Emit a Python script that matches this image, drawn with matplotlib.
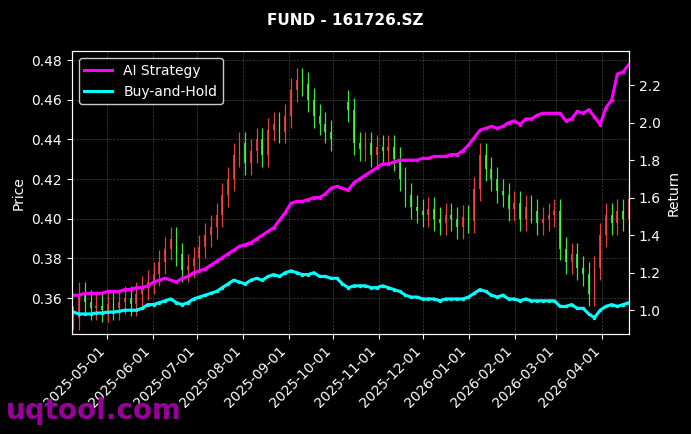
import matplotlib
matplotlib.use("Agg")
import matplotlib.pyplot as plt
import matplotlib.dates as mdates
import numpy as np
import pandas as pd

dates = pd.date_range("2025-04-08", "2026-04-19", periods=98)
closes = [.350,.362,.358,.355,.356, .354,.357,.355,.358,.360,
          .357,.362,.365,.368,.372, .378,.385,.390,.382,.374,
          .376,.380,.386,.392,.396, .402,.412,.420,.432,.438,
          .428,.434,.440,.432,.445, .448,.444,.452,.465,.470,
          .468,.460,.452,.448,.444, .440,np.nan,np.nan,.455,.438,
          .435,.438,.432,.436,.434, .436,.430,.420,.412,.406,
          .404,.402,.405,.400,.398, .402,.400,.396,.401,.399,
          .415,.432,.425,.420,.414, .412,.405,.408,.400,.406,
          .404,.398,.400,.402,.404, .385,.378,.382,.375,.372,
          .362,.375,.392,.402,.398, .404,.400,.410]
strategy = [1.08,1.08,1.09,1.09,1.09, 1.09,1.10,1.10,1.10,1.11,
            1.11,1.12,1.12,1.13,1.15, 1.16,1.17,1.16,1.15,1.17,
            1.18,1.20,1.21,1.22,1.24, 1.26,1.28,1.30,1.32,1.34,
            1.35,1.36,1.38,1.40,1.42, 1.44,1.48,1.52,1.57,1.58,
            1.58,1.59,1.60,1.60,1.62, 1.65,1.66,1.65,1.64,1.68,
            1.70,1.72,1.74,1.76,1.78, 1.78,1.79,1.80,1.80,1.80,
            1.80,1.81,1.81,1.82,1.82, 1.82,1.83,1.83,1.85,1.88,
            1.92,1.96,1.97,1.98,1.97, 1.98,2.00,2.01,1.99,2.02,
            2.02,2.04,2.05,2.05,2.05, 2.05,2.01,2.02,2.06,2.05,
            2.07,2.03,1.99,2.08,2.12, 2.26,2.27,2.31]
buyhold = [0.99,0.98,0.98,0.98,0.985, 0.985,0.99,0.99,0.995,1.00,
           1.00,1.00,1.01,1.03,1.03, 1.04,1.05,1.06,1.04,1.03,
           1.04,1.06,1.07,1.08,1.09, 1.10,1.12,1.14,1.16,1.15,
           1.14,1.16,1.17,1.16,1.18, 1.19,1.18,1.20,1.21,1.20,
           1.19,1.19,1.20,1.18,1.18, 1.17,1.17,1.14,1.12,1.13,
           1.13,1.13,1.12,1.12,1.13, 1.12,1.11,1.10,1.08,1.07,
           1.07,1.06,1.06,1.06,1.05, 1.06,1.06,1.06,1.06,1.07,
           1.09,1.11,1.10,1.08,1.07, 1.08,1.06,1.06,1.05,1.06,
           1.05,1.05,1.05,1.05,1.05, 1.02,1.02,1.03,1.01,1.01,
           0.98,0.96,1.00,1.02,1.03, 1.02,1.03,1.04]

plt.style.use("dark_background")
fig, ax = plt.subplots(figsize=(6.91, 4.34), dpi=100)
fig.subplots_adjust(left=0.104, right=0.910, top=0.882, bottom=0.230)

c = np.array(closes, dtype=float)
o = np.r_[c[0], c[:-1]]
x = mdates.date2num(dates)
for i in range(len(c)):
    if np.isnan(c[i]):
        continue
    oi = o[i] if not np.isnan(o[i]) else c[i] + 0.004
    col = "#ff4444" if c[i] >= oi else "#44ff44"
    hi = max(c[i], oi) + 0.006
    lo = min(c[i], oi) - 0.006
    ax.vlines(x[i], lo, hi, color=col, lw=0.9, alpha=0.9)
    ax.bar(x[i], max(abs(c[i] - oi), 0.0008), bottom=min(c[i], oi), width=1.2, color=col, alpha=0.8)

ax.set_ylim(0.3418, 0.4845)
ax.set_xlim(mdates.date2num(pd.Timestamp("2025-04-07")), mdates.date2num(pd.Timestamp("2026-04-19")))
ax.set_ylabel("Price")
ax.grid(True, color="gray", ls="--", lw=0.5, alpha=0.5)
ax.xaxis.set_major_locator(mdates.MonthLocator())
ax.xaxis.set_major_formatter(mdates.DateFormatter("%Y-%m-%d"))
plt.setp(ax.get_xticklabels(), rotation=45, ha="right")

ax2 = ax.twinx()
ax2.plot(dates, strategy, color="#ff00ff", lw=2.2, marker="o", markersize=1.5, label="AI Strategy")
ax2.plot(dates, buyhold, color="#00ffff", lw=2.2, marker="o", markersize=1.5, label="Buy-and-Hold")
ax2.set_ylim(0.872, 2.381)
ax2.set_ylabel("Return")
ax2.legend(loc="upper left", edgecolor="white", fontsize=10)

fig.suptitle("FUND - 161726.SZ", fontweight="bold", fontsize=11, y=0.97)
fig.text(0.008, 0.035, "uqtool.com", color="#990099", fontsize=20, fontweight="bold")
fig.savefig("out.png", dpi=100)
